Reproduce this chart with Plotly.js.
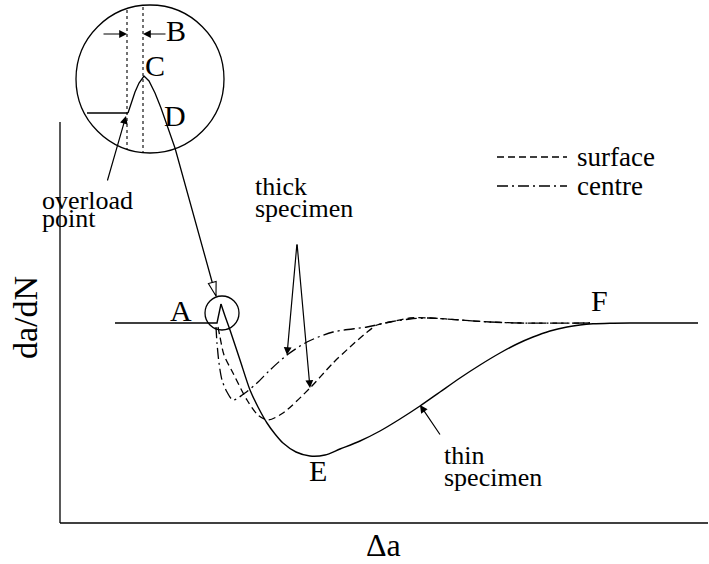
<!DOCTYPE html>
<html>
<head>
<meta charset="utf-8">
<script src="https://cdn.plot.ly/plotly-3.0.1.min.js"></script>
<style>html,body{margin:0;padding:0;background:#fff;}#chart{width:709px;height:564px;}</style>
</head>
<body>
<div id="chart"></div>
<script>
// Schematic of crack growth rate da/dN against crack extension Δa after a single overload.

// Axis frame (partial left spine + bottom line)
const frameLeftX = [0, 0];
const frameLeftY = [401, 0];
const frameBottomX = [0, 648];
const frameBottomY = [0, 0];

// Steady-state level A with the overload spike (points B/C)
const spikeX = [55, 157, 161];
const spikeY = [200, 200, 219];

// Thin specimen response: from the spike down to minimum E and back to F
const thinX = [161, 165, 170, 180, 190, 198, 207, 215, 223, 236, 250, 265, 280, 300, 320, 340, 360, 380, 400, 420, 440, 457, 473, 490, 507, 520, 533, 550, 570, 638];
const thinY = [219, 207, 193, 163, 133, 116, 100, 89, 80, 71, 67, 68, 74, 82, 92, 104, 117, 131, 145, 158, 170, 179, 186, 192, 196, 198, 199.2, 199.8, 200, 200];

// Thick specimen, surface (dashed)
const surfaceX = [158, 160, 164, 173, 187, 198, 208, 223, 250, 273, 290, 306, 317, 330, 350, 370, 400, 430, 460, 530];
const surfaceY = [196, 186, 168, 150, 123, 108, 103, 110, 135, 160, 176, 190, 198, 201, 205, 205, 203, 201, 200, 200];

// Thick specimen, centre (dash-dot)
const centreX = [156, 157, 159, 162, 167, 173, 185, 197, 210, 227, 247, 273, 307, 330, 350, 370, 400, 430, 460, 530];
const centreY = [196, 180, 160, 143, 131, 123, 130, 140, 153, 168, 181, 191, 196, 201, 204, 205, 203, 201, 200, 200];

// Magnified view of the overload point (inside the large circle)
const zoomBaseX = [27, 68];
const zoomBaseY = [410, 410];
const zoomPeakX = [68, 71, 75, 79, 84, 89, 95, 101, 108, 115, 156];
const zoomPeakY = [410, 420, 431, 440, 447, 442, 430, 415, 395, 375, 227];

// Dotted guides bounding the retardation distance B
const guideLeftX = [67, 67];
const guideLeftY = [513, 373];
const guideRightX = [83, 83];
const guideRightY = [516, 370];

// Circles: small one around the overload point, large one for the magnified view
const smallCircle = {cx: 162, cy: 210, r: 17};
const largeCircle = {cx: 90, cy: 444, r: 74};

// Legend samples
const legendLabels = ['surface', 'centre'];
const legendX = [437, 507];
const legendY = [366, 337];

// Labels
const letterLabels = ['A', 'B', 'C', 'D', 'E', 'F'];
const letterX = [121, 116, 95, 115, 258, 539];
const letterY = [213, 493, 458, 408, 53, 223];

const noteLines = ['overload', 'point', 'thick', 'specimen', 'thin', 'specimen'];
const noteX = [-20, -20, 193, 193, 382, 382];
const noteY = [323, 305, 337, 315, 68, 46];

// Arrows: [tail x, tail y, tip x, tip y]
const arrows = [
  [47, 341, 66, 407],    // overload point
  [42, 489, 67, 489],    // B, left
  [107, 489, 83, 489],   // B, right
  [237, 280, 227, 168],  // thick specimen -> centre
  [237, 280, 250, 135],  // thick specimen -> surface
  [381, 87, 360, 118]    // thin specimen
];

const FONT = "'Liberation Serif', 'Times New Roman', Times, serif";
const black = '#000';

// Plot area in page pixels
const PLOT = {l: 30, b: 30, w: 679, h: 534};

function line(x, y, dash, width, shape) {
  return {x: x, y: y, type: 'scatter', mode: 'lines', hoverinfo: 'skip', showlegend: false,
    line: {color: black, width: width || 1.4, dash: dash || 'solid', shape: shape || 'linear', smoothing: 0.8}};
}

const DASH = '7px,4px';
const DASHDOT = '11px,4px,2px,4px';

// Open arrowhead at the end of the magnified-view connector
function openHead(x, y, len, half) {
  const n = x.length;
  const tx = x[n - 1], ty = y[n - 1];
  const dx = tx - x[n - 2], dy = ty - y[n - 2];
  const d = Math.hypot(dx, dy);
  const ux = dx / d, uy = dy / d;
  const bx = tx - len * ux, by = ty - len * uy;
  return {
    x: [tx, bx - half * uy, bx + half * uy, tx],
    y: [ty, by + half * ux, by - half * ux, ty]
  };
}
const head = openHead(zoomPeakX, zoomPeakY, 14, 4);

const traces = [
  line(frameLeftX, frameLeftY, 'solid', 1.3),
  line(frameBottomX, frameBottomY, 'solid', 1.3),
  line(spikeX, spikeY, 'solid', 1.4),
  line(thinX, thinY, 'solid', 1.4, 'spline'),
  line(surfaceX, surfaceY, DASH, 1.3, 'spline'),
  line(centreX, centreY, DASHDOT, 1.3, 'spline'),
  line(zoomBaseX, zoomBaseY, 'solid', 1.3),
  line(zoomPeakX, zoomPeakY, 'solid', 1.3),
  Object.assign(line(head.x, head.y, 'solid', 1.1), {fill: 'toself', fillcolor: '#fff'}),
  line(guideLeftX, guideLeftY, 'dot', 1.1),
  line(guideRightX, guideRightY, 'dot', 1.1),
  line(legendX, [legendY[0], legendY[0]], DASH, 1.3),
  line(legendX, [legendY[1], legendY[1]], DASHDOT, 1.3)
];

const annotations = [];
letterLabels.forEach((t, i) => annotations.push({
  x: letterX[i], y: letterY[i], xref: 'x', yref: 'y', text: t, showarrow: false,
  font: {family: FONT, size: 30, color: black}
}));
noteLines.forEach((t, i) => annotations.push({
  x: noteX[i], y: noteY[i], xref: 'x', yref: 'y', text: t, showarrow: false,
  xanchor: 'left', font: {family: FONT, size: 26, color: black}
}));
legendLabels.forEach((t, i) => annotations.push({
  x: legendX[1] + 8, y: legendY[i], xref: 'x', yref: 'y', text: t, showarrow: false,
  xanchor: 'left', font: {family: FONT, size: 27, color: black}
}));
arrows.forEach(a => annotations.push({
  x: a[2], y: a[3], ax: a[0], ay: a[1], xref: 'x', yref: 'y', axref: 'x', ayref: 'y',
  text: '', showarrow: true, arrowhead: 2, arrowsize: 1.3, arrowwidth: 1.2, arrowcolor: black, standoff: 0
}));

// Axis titles, placed by page pixel position
function paperPos(px, py) {
  return {x: (px - PLOT.l) / PLOT.w, y: (564 - py - PLOT.b) / PLOT.h};
}
const yTitle = paperPos(25, 318);
const xTitle = paperPos(383, 545);
annotations.push({x: yTitle.x, y: yTitle.y, xref: 'paper', yref: 'paper', xanchor: 'center', yanchor: 'middle',
  text: 'da/dN', textangle: -90, showarrow: false, font: {family: FONT, size: 34, color: black}});
annotations.push({x: xTitle.x, y: xTitle.y, xref: 'paper', yref: 'paper', xanchor: 'center', yanchor: 'middle',
  text: 'Δa', showarrow: false, font: {family: FONT, size: 32, color: black}});

function circleShape(c) {
  return {type: 'circle', xref: 'x', yref: 'y', x0: c.cx - c.r, x1: c.cx + c.r, y0: c.cy - c.r, y1: c.cy + c.r,
    line: {color: black, width: 1.3}};
}

const layout = {
  width: 709, height: 564,
  margin: {l: PLOT.l, r: 0, t: 0, b: PLOT.b},
  paper_bgcolor: '#fff', plot_bgcolor: '#fff',
  xaxis: {range: [-30, 649], visible: false, fixedrange: true},
  yaxis: {range: [-11, 523], visible: false, fixedrange: true},
  shapes: [circleShape(smallCircle), circleShape(largeCircle)],
  annotations: annotations,
  showlegend: false
};

Plotly.newPlot('chart', traces, layout, {staticPlot: true});
</script>
</body>
</html>
